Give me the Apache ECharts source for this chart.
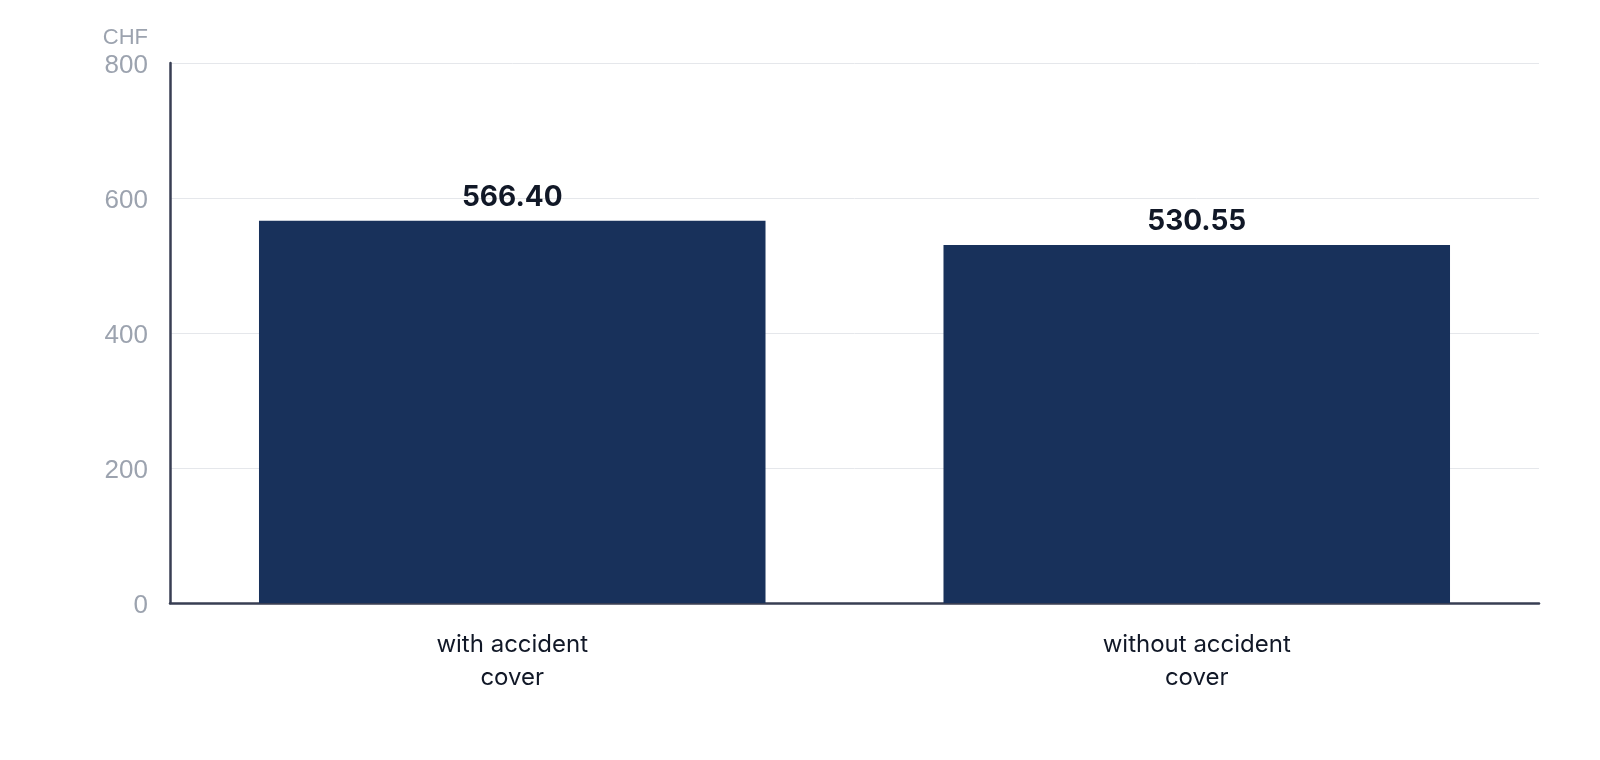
<!DOCTYPE html>
<html>
<head>
<meta charset="utf-8">
<script src="https://cdn.jsdelivr.net/npm/echarts@6/dist/echarts.min.js"></script>
<style>html,body{margin:0;padding:0;background:#fff}#c{width:1600px;height:760px}</style>
</head>
<body>
<div id="c"></div>
<script>
const categories = ['with accident\ncover', 'without accident\ncover'];
const values = [566.40, 530.55];
const unitName = 'CHF';

const chart = echarts.init(document.getElementById('c'));
chart.setOption({
  animation: false,
  textStyle: { fontFamily: 'Inter' },
  grid: { left: 170, right: 61, top: 63, bottom: 157 },
  xAxis: {
    type: 'category',
    data: categories,
    axisLine: { lineStyle: { color: '#383e53', width: 2.5 } },
    axisTick: { show: false },
    axisLabel: { color: '#111827', fontSize: 24, lineHeight: 33, margin: 25, fontFamily: 'Inter' }
  },
  yAxis: {
    type: 'value',
    min: 0, max: 800, interval: 200,
    name: unitName,
    nameLocation: 'end',
    nameGap: 14,
    nameTextStyle: { color: '#9ca3af', fontSize: 22, align: 'right', padding: [0, 22, 0, 0], fontFamily: 'Liberation Sans' },
    axisLine: { show: true, lineStyle: { color: '#383e53', width: 2.5 } },
    axisTick: { show: false },
    axisLabel: {
      margin: 22,
      formatter: '{a|{value}}',
      rich: { a: { color: '#9ca3af', fontSize: 26, fontFamily: 'Liberation Sans', padding: [6, 0, 0, 0] } }
    },
    splitLine: { lineStyle: { color: '#e5e7eb', width: 1 } }
  },
  series: [{
    type: 'bar',
    data: values,
    barWidth: '74%',
    itemStyle: { color: '#18315b' },
    label: {
      show: true, position: 'top', distance: 9,
      color: '#111827', fontSize: 28, fontWeight: 'bold', fontFamily: 'Inter',
      formatter: p => p.value.toFixed(2)
    }
  }]
});
</script>
</body>
</html>
